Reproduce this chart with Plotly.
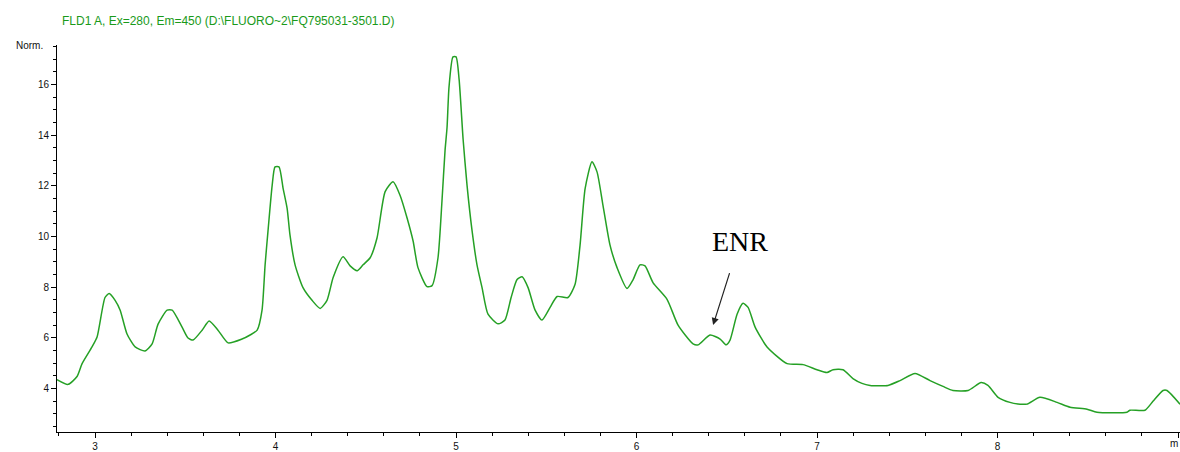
import plotly.graph_objects as go

# Fluorescence detector trace (retention time in min, signal in Norm.)
time_min = [
    2.789, 2.850, 2.900, 2.928, 2.983, 3.011, 3.055, 3.078, 3.111, 3.139,
    3.177, 3.222, 3.277, 3.316, 3.349, 3.399, 3.427, 3.482, 3.515, 3.543,
    3.593, 3.632, 3.681, 3.737, 3.814, 3.859, 3.898, 3.925, 3.942, 3.958,
    3.981, 3.997, 4.019, 4.042, 4.064, 4.080, 4.108, 4.152, 4.202, 4.247,
    4.285, 4.319, 4.374, 4.413, 4.452, 4.485, 4.524, 4.562, 4.607, 4.651,
    4.690, 4.729, 4.762, 4.789, 4.839, 4.867, 4.900, 4.922, 4.939, 4.950,
    4.961, 4.983, 5.000, 5.017, 5.039, 5.061, 5.089, 5.116, 5.144, 5.177,
    5.233, 5.271, 5.305, 5.338, 5.366, 5.399, 5.438, 5.476, 5.521, 5.560,
    5.620, 5.659, 5.687, 5.715, 5.753, 5.781, 5.814, 5.853, 5.892, 5.947,
    5.981, 6.019, 6.047, 6.091, 6.169, 6.230, 6.313, 6.341, 6.407, 6.463,
    6.496, 6.518, 6.557, 6.590, 6.618, 6.657, 6.723, 6.834, 6.922, 7.000,
    7.055, 7.089, 7.144, 7.199, 7.249, 7.294, 7.393, 7.460, 7.543, 7.626,
    7.698, 7.753, 7.837, 7.909, 7.947, 8.003, 8.069, 8.125, 8.163, 8.235,
    8.330, 8.402, 8.496, 8.551, 8.717, 8.734, 8.817, 8.861, 8.917, 8.939,
    9.011,
]
signal = [
    4.35, 4.16, 4.47, 4.98, 5.64, 6.03, 7.59, 7.75, 7.48, 7.09,
    6.15, 5.64, 5.48, 5.76, 6.54, 7.09, 7.09, 6.42, 5.99, 5.91,
    6.30, 6.66, 6.30, 5.80, 5.95, 6.11, 6.30, 7.09, 8.88, 10.21,
    12.01, 12.75, 12.75, 11.89, 11.11, 10.05, 8.88, 7.98, 7.48, 7.16,
    7.48, 8.38, 9.20, 8.84, 8.65, 8.88, 9.16, 9.94, 11.77, 12.16,
    11.62, 10.72, 9.82, 8.77, 8.02, 8.06, 9.16, 11.40, 13.40, 14.30,
    15.90, 17.09, 17.09, 16.19, 13.84, 12.01, 10.21, 8.88, 7.98, 6.93,
    6.55, 6.70, 7.59, 8.30, 8.41, 7.98, 7.09, 6.70, 7.20, 7.63,
    7.59, 8.10, 9.66, 11.89, 12.95, 12.55, 11.23, 9.66, 8.77, 7.95,
    8.30, 8.88, 8.84, 8.18, 7.52, 6.50, 5.76, 5.72, 6.11, 5.95,
    5.72, 5.91, 6.93, 7.36, 7.20, 6.42, 5.64, 4.98, 4.94, 4.74,
    4.63, 4.74, 4.74, 4.39, 4.20, 4.12, 4.12, 4.31, 4.59, 4.31,
    4.08, 3.92, 3.92, 4.23, 4.12, 3.65, 3.45, 3.38, 3.38, 3.65,
    3.45, 3.26, 3.18, 3.06, 3.06, 3.14, 3.14, 3.49, 3.92, 3.92,
    3.38,
]

# Axis extents
x_range = [2.789, 9.011]
y_range = [2.28, 17.56]

# Last x tick carries the unit abbreviation instead of a number
unit_tick_text = "m"

# ENR peak marker: arrow tip on the peak, tail and label above it
enr_label = "ENR"
enr_tip = (6.424, 6.50)
enr_tail = (6.518, 8.61)
enr_text_pos = (6.573, 9.82)

title_text = "FLD1 A, Ex=280, Em=450 (D:\\FLUORO~2\\FQ795031-3501.D)"
y_unit = "Norm."

fig = go.Figure()
fig.add_trace(go.Scatter(
    x=time_min, y=signal, mode="lines",
    line=dict(color="#25a025", width=1.5, shape="spline", smoothing=0.6),
    hoverinfo="skip", showlegend=False,
))

axis_font = dict(family="Liberation Sans, Arial, sans-serif", size=10, color="#111")

fig.update_layout(
    width=1180, height=452,
    margin=dict(l=57, r=0, t=45, b=16),
    paper_bgcolor="white", plot_bgcolor="white",
    xaxis=dict(
        range=x_range, showgrid=False, zeroline=False,
        showline=True, linecolor="black", linewidth=1,
        ticks="outside", ticklen=5, tickcolor="black", tickwidth=1,
        tick0=3, dtick=1,
        minor=dict(ticks="outside", ticklen=3, tickcolor="black", dtick=0.2, tick0=3),
        tickfont=axis_font,
    ),
    yaxis=dict(
        range=y_range, showgrid=False, zeroline=False,
        showline=True, linecolor="black", linewidth=1,
        ticks="outside", ticklen=5, tickcolor="black", tickwidth=1,
        tick0=0, dtick=2,
        minor=dict(ticks="outside", ticklen=3, tickcolor="black", dtick=0.5, tick0=0),
        tickfont=axis_font,
    ),
    annotations=[
        dict(text=title_text, xref="paper", yref="paper", x=0.0027, y=1.061,
             xanchor="left", yanchor="middle", showarrow=False,
             font=dict(family="Liberation Sans, Arial, sans-serif", size=12, color="#1a9a1a")),
        dict(text=y_unit, xref="paper", yref="paper", x=-0.0105, y=1.0,
             xanchor="right", yanchor="middle", showarrow=False,
             font=axis_font),
        dict(text=unit_tick_text, xref="paper", yref="paper", x=1.0, y=-0.031,
             xanchor="right", yanchor="middle", showarrow=False,
             font=axis_font),
        dict(text=enr_label, x=enr_text_pos[0], y=enr_text_pos[1],
             xanchor="center", yanchor="middle", showarrow=False,
             font=dict(family="Liberation Serif, Times New Roman, serif", size=28, color="black")),
        dict(text="", x=enr_tip[0], y=enr_tip[1], ax=enr_tail[0], ay=enr_tail[1],
             axref="x", ayref="y", showarrow=True, arrowhead=2, arrowsize=1.2,
             arrowwidth=1.2, arrowcolor="#222"),
    ],
)

fig.write_html("out.html")
